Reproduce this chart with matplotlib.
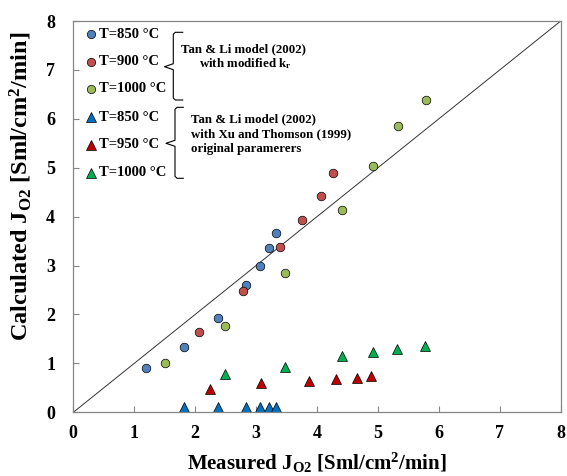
import matplotlib
matplotlib.use('Agg')
import matplotlib.pyplot as plt

# ── 데이터 ──
# Tan & Li model (2002) with modified kr : 원형 마커
c850_x = [1.20, 1.82, 2.38, 2.84, 3.07, 3.22, 3.33]
c850_y = [0.91, 1.33, 1.92, 2.60, 2.99, 3.36, 3.66]
c900_x = [2.06, 2.78, 3.40, 3.76, 4.06, 4.26]
c900_y = [1.64, 2.48, 3.37, 3.94, 4.43, 4.90]
c1000_x = [1.51, 2.49, 3.47, 4.41, 4.92, 5.33, 5.79]
c1000_y = [1.00, 1.77, 2.85, 4.13, 5.04, 5.86, 6.39]

# Xu and Thomson (1999) original parameters : 삼각형 마커
t850_x = [1.82, 2.38, 2.84, 3.07, 3.22, 3.33]
t850_y = [0.10, 0.10, 0.10, 0.10, 0.10, 0.10]
t950_x = [2.25, 3.08, 3.87, 4.32, 4.65, 4.89]
t950_y = [0.48, 0.59, 0.64, 0.69, 0.71, 0.75]
t1000_x = [2.49, 3.47, 4.41, 4.92, 5.32, 5.78]
t1000_y = [0.78, 0.93, 1.15, 1.23, 1.29, 1.36]

parity_line = [0, 8]
ticks = [0, 1, 2, 3, 4, 5, 6, 7, 8]

legend_labels = ['T=850 °C', 'T=900 °C', 'T=1000 °C',
                 'T=850 °C', 'T=950 °C', 'T=1000 °C']

BLUE_C, RED_C, OLIVE_C = '#4F81BD', '#C0504D', '#9BBB59'
BLUE_T, RED_T, GREEN_T = '#0070C0', '#C00000', '#00B050'
SPINE = '#868686'

W, H = 567, 476
AX_L, AX_R, AX_T, AX_B = 73.3, 560.7, 21.0, 412.3

plt.rcParams['font.family'] = ['Liberation Serif', 'DejaVu Serif']
plt.rcParams['font.weight'] = 'bold'
plt.rcParams['mathtext.fontset'] = 'custom'
plt.rcParams['mathtext.rm'] = 'Liberation Serif:bold'
plt.rcParams['mathtext.it'] = 'Liberation Serif:bold'
plt.rcParams['mathtext.bf'] = 'Liberation Serif:bold'
plt.rcParams['mathtext.default'] = 'rm'


def ax_pt(px, py):
    """픽셀 좌표(좌상단 기준) → axes fraction."""
    return ((px - AX_L) / (AX_R - AX_L), (AX_B - py) / (AX_B - AX_T))


def brace(ax, right, spine, tip, top, mid, bottom):
    pts = [(right, top), (spine + 2, top), (spine, top + 2),
           (spine, mid - 3), (tip, mid), (spine, mid + 3),
           (spine, bottom - 2), (spine + 2, bottom), (right, bottom)]
    xs, ys = zip(*[ax_pt(*p) for p in pts])
    ax.plot(xs, ys, '-', color='black', lw=0.8, transform=ax.transAxes,
            clip_on=False)


fig = plt.figure(figsize=(W / 100, H / 100), dpi=100)
ax = fig.add_axes([AX_L / W, 1 - AX_B / H,
                   (AX_R - AX_L) / W, (AX_B - AX_T) / H])

ax.plot(parity_line, parity_line, '-', color='#333333', lw=0.7)

tri_kw = dict(marker='^', ms=7.6, mec='black', mew=0.5, ls='none')
ax.plot(t850_x, t850_y, color=BLUE_T, mfc=BLUE_T, **tri_kw)
ax.plot(t950_x, t950_y, color=RED_T, mfc=RED_T, **tri_kw)
ax.plot(t1000_x, t1000_y, color=GREEN_T, mfc=GREEN_T, **tri_kw)

circ_kw = dict(marker='o', ms=6.2, mec='black', mew=0.5, ls='none')
ax.plot(c850_x, c850_y, mfc=BLUE_C, **circ_kw)
ax.plot(c900_x, c900_y, mfc=RED_C, **circ_kw)
ax.plot(c1000_x, c1000_y, mfc=OLIVE_C, **circ_kw)

ax.set_xlim(0, 8)
ax.set_ylim(0, 8)
ax.set_xticks(ticks)
ax.set_yticks(ticks)
for s in ax.spines.values():
    s.set_color(SPINE)
    s.set_linewidth(0.9)
ax.tick_params(direction='in', length=4.5, width=0.8, color=SPINE,
               labelsize=13)
ax.tick_params(axis='x', pad=9)
ax.tick_params(axis='y', pad=13)

# ── 수동 범례 ──
leg_rows = [34.0, 61.7, 89.0, 117.3, 145.0, 172.7]
leg_colors = [BLUE_C, RED_C, OLIVE_C, BLUE_T, RED_T, GREEN_T]
leg_markers = ['o', 'o', 'o', '^', '^', '^']
for lbl, py, col, mk in zip(legend_labels, leg_rows, leg_colors, leg_markers):
    mx, my = ax_pt(91, py)
    ax.plot([mx], [my], marker=mk, ms=6.0 if mk == 'o' else 7.0,
            mfc=col, mec='black', mew=0.5, ls='none',
            transform=ax.transAxes, clip_on=False)
    tx, ty = ax_pt(99, py)
    ax.text(tx, ty, lbl, transform=ax.transAxes, ha='left', va='center',
            fontsize=10.5)

brace(ax, 182.7, 173.3, 164.5, 32.3, 66.7, 100.0)
brace(ax, 183.3, 175.0, 166.0, 107.3, 143.3, 178.3)

x1, y1 = ax_pt(244, 49.3)
ax.text(x1, y1, 'Tan & Li model (2002)', transform=ax.transAxes,
        ha='center', va='center', fontsize=9.3)
x1, y1 = ax_pt(245, 64)
ax.text(x1, y1, 'with modified k$_\\mathrm{r}$', transform=ax.transAxes,
        ha='center', va='center', fontsize=9.3)
for line, py in zip(['Tan & Li model (2002)',
                     'with Xu and Thomson (1999)',
                     'original paramerers'], [119, 134, 149]):
    x2, y2 = ax_pt(190.7, py)
    ax.text(x2, y2, line, transform=ax.transAxes, ha='left', va='center',
            fontsize=9.3)

# ── 축 제목 ──
fig.text(317 / W, 1 - 469.5 / H,
         'Measured J$_\\mathrm{O2}$ [Sml/cm$^\\mathrm{2}$/min]',
         ha='center', va='baseline', fontsize=15)
fig.text(28.3 / W, 1 - 186 / H,
         'Calculated J$_\\mathrm{O2}$ [Sml/cm$^\\mathrm{2}$/min]',
         ha='center', va='baseline', rotation=90, rotation_mode='anchor',
         fontsize=17.5)

fig.savefig('out.png', dpi=100)
plt.close(fig)
